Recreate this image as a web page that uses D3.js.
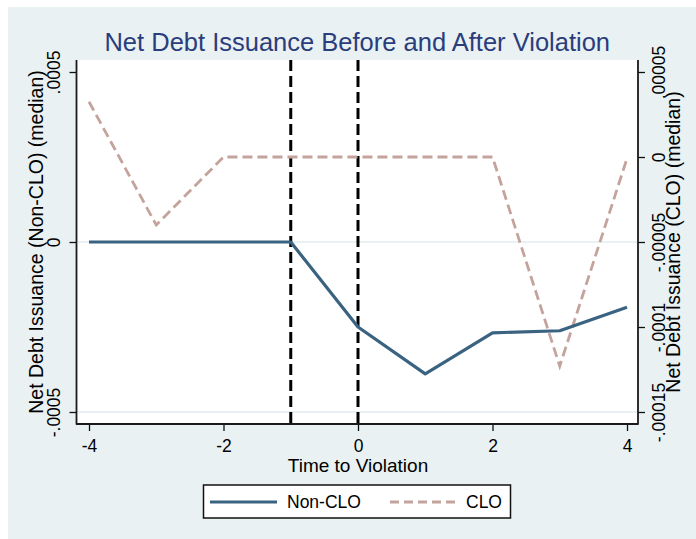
<!DOCTYPE html>
<html>
<head>
<meta charset="utf-8">
<script src="https://cdn.jsdelivr.net/npm/d3@7"></script>
<style>
  html, body { margin: 0; padding: 0; background: #ffffff; }
  svg { display: block; }
  text { font-family: "Liberation Sans", Arial, sans-serif; }
</style>
</head>
<body>
<svg id="chart" width="696" height="539"></svg>
<script>
// Event time relative to the covenant violation
const periods = [-4, -3, -2, -1, 0, 1, 2, 3, 4];

// Median net debt issuance, non-CLO lenders (left axis)
const nonClo = [0, 0, 0, 0, -0.000250, -0.000388, -0.000267, -0.000261, -0.000192];

// Median net debt issuance, CLO lenders (right axis)
const clo = [0.0000325, -0.0000400, 0, 0, 0, 0, 0, -0.000123, -0.0000009];

// Axis ticks and their printed labels
const xTicks = [-4, -2, 0, 2, 4];
const leftTicks = [-0.0005, 0, 0.0005];
const leftTickLabels = ["-.0005", "0", ".0005"];
const rightTicks = [-0.00015, -0.0001, -0.00005, 0, 0.00005];
const rightTickLabels = ["-.00015", "-.0001", "-.00005", "0", ".00005"];

// Periods marked with vertical reference lines
const refLines = [-1, 0];

const seriesNames = ["Non-CLO", "CLO"];

const svg = d3.select("#chart");
const W = 696, H = 539;

// Outer graph region
svg.append("rect").attr("x", 8).attr("y", 7).attr("width", W - 8).attr("height", H - 7)
  .attr("fill", "#e9f1f3");

// Plot region
const frame = { left: 76.5, right: 638, top: 60, bottom: 424 };
svg.append("rect")
  .attr("x", frame.left).attr("y", frame.top)
  .attr("width", frame.right - frame.left).attr("height", frame.bottom - frame.top)
  .attr("fill", "#ffffff");

const x = d3.scaleLinear().domain([-4, 4]).range([89, 627]);
const yL = d3.scaleLinear().domain([-0.0005, 0.0005]).range([412, 72]);
const yR = d3.scaleLinear().domain([-0.00015, 0.00005]).range([412, 72]);

// Horizontal grid lines
svg.append("g").selectAll("line").data([0, -0.0005]).join("line")
  .attr("x1", frame.left + 1).attr("x2", frame.right - 1)
  .attr("y1", d => yL(d)).attr("y2", d => yL(d))
  .attr("stroke", "#e2edef").attr("stroke-width", 1.5);

// Axes
const tickFont = "17.5px";
const axisColor = "#111";
const fontFam = "Liberation Sans, Arial, sans-serif";

const xAxis = svg.append("g").attr("transform", `translate(0,${frame.bottom})`)
  .call(d3.axisBottom(x).tickValues(xTicks).tickSize(7).tickPadding(0)
    .tickFormat(d => d3.format("d")(d).replace("\u2212", "-")));
xAxis.select(".domain").remove();
xAxis.selectAll("line").attr("stroke", axisColor).attr("stroke-width", 1.3);
xAxis.selectAll("text").attr("font-size", tickFont).attr("fill", "#000")
  .attr("font-family", fontFam)
  .attr("y", 28).attr("dy", null);

const leftAxis = svg.append("g").attr("transform", `translate(${frame.left},0)`)
  .call(d3.axisLeft(yL).tickValues(leftTicks).tickSize(7).tickPadding(0)
    .tickFormat((d, i) => leftTickLabels[i]));
leftAxis.select(".domain").remove();
leftAxis.selectAll("line").attr("stroke", axisColor).attr("stroke-width", 1.3);
leftAxis.selectAll("text")
  .attr("font-size", tickFont).attr("fill", "#000")
  .attr("font-family", fontFam)
  .attr("x", null).attr("dy", null)
  .attr("text-anchor", "middle")
  .attr("transform", "translate(-16.5,0) rotate(-90)");

const rightAxis = svg.append("g").attr("transform", `translate(${frame.right},0)`)
  .call(d3.axisRight(yR).tickValues(rightTicks).tickSize(7).tickPadding(0)
    .tickFormat((d, i) => rightTickLabels[i]));
rightAxis.select(".domain").remove();
rightAxis.selectAll("line").attr("stroke", axisColor).attr("stroke-width", 1.3);
rightAxis.selectAll("text")
  .attr("font-size", tickFont).attr("fill", "#000")
  .attr("font-family", fontFam)
  .attr("x", null).attr("dy", null)
  .attr("text-anchor", "middle")
  .attr("transform", "translate(27,0) rotate(-90)");

// Axis lines: left, bottom and right edges of the plot region
svg.append("path")
  .attr("d", `M${frame.left},${frame.top} V${frame.bottom} H${frame.right} V${frame.top}`)
  .attr("fill", "none").attr("stroke", "#1a1a1a").attr("stroke-width", 1.8)
  .attr("stroke-linejoin", "round");

// Reference lines at violation
svg.append("g").selectAll("line").data(refLines).join("line")
  .attr("x1", d => x(d)).attr("x2", d => x(d))
  .attr("y1", frame.top).attr("y2", frame.bottom)
  .attr("stroke", "#000").attr("stroke-width", 3)
  .attr("stroke-dasharray", "11,5");

// Series lines
const lineL = d3.line().x((d, i) => x(periods[i])).y(d => yL(d));
const lineR = d3.line().x((d, i) => x(periods[i])).y(d => yR(d));

const navy = "#3a6281";
const rose = "#c4a39d";

svg.append("path").datum(clo).attr("d", lineR)
  .attr("fill", "none").attr("stroke", rose).attr("stroke-width", 2.8)
  .attr("stroke-dasharray", "10,5");

svg.append("path").datum(nonClo).attr("d", lineL)
  .attr("fill", "none").attr("stroke", navy).attr("stroke-width", 3.2)
  .attr("stroke-linejoin", "round");

// Title
svg.append("text")
  .attr("x", (frame.left + frame.right) / 2).attr("y", 51)
  .attr("text-anchor", "middle").attr("font-size", "25.5px").attr("fill", "#2a3d7c")
  .text("Net Debt Issuance Before and After Violation");

// Axis titles
svg.append("text")
  .attr("x", (x(-4) + x(4)) / 2).attr("y", 472)
  .attr("text-anchor", "middle").attr("font-size", "19px").attr("fill", "#000")
  .text("Time to Violation");

svg.append("text")
  .attr("transform", `translate(43,${(frame.top + frame.bottom) / 2}) rotate(-90)`)
  .attr("text-anchor", "middle").attr("font-size", "19.5px").attr("fill", "#000")
  .text("Net Debt Issuance (Non-CLO) (median)");

svg.append("text")
  .attr("transform", `translate(680,${(frame.top + frame.bottom) / 2}) rotate(-90)`)
  .attr("text-anchor", "middle").attr("font-size", "19.5px").attr("fill", "#000")
  .text("Net Debt Issuance (CLO) (median)");

// Legend
const legend = svg.append("g");
legend.append("rect").attr("x", 203.5).attr("y", 485).attr("width", 307).attr("height", 33)
  .attr("fill", "#fff").attr("stroke", "#111").attr("stroke-width", 1.5);
const legendItems = [
  { name: seriesNames[0], color: navy, dash: null, width: 3.2, x0: 210, x1: 277, tx: 287 },
  { name: seriesNames[1], color: rose, dash: "9,5", width: 2.8, x0: 390, x1: 456, tx: 466 }
];
legendItems.forEach(it => {
  legend.append("line").attr("x1", it.x0).attr("x2", it.x1).attr("y1", 502).attr("y2", 502)
    .attr("stroke", it.color).attr("stroke-width", it.width)
    .attr("stroke-dasharray", it.dash);
  legend.append("text").attr("x", it.tx).attr("y", 508)
    .attr("font-size", "17.5px").attr("fill", "#000").text(it.name);
});
</script>
</body>
</html>
